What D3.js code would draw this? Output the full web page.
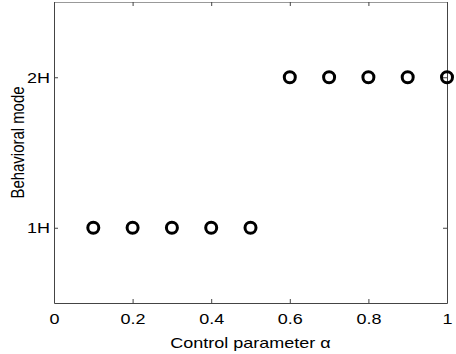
<!DOCTYPE html>
<html>
<head>
<meta charset="utf-8">
<script src="https://cdn.jsdelivr.net/npm/d3@7"></script>
<style>
  body { margin: 0; background: #fff; }
  text { font-family: "Liberation Sans", Arial, sans-serif; }
</style>
</head>
<body>
<div id="canvas"></div>
<script>
"use strict"

// data
let alphaValues = [0.1, 0.2, 0.3, 0.4, 0.5, 0.6, 0.7, 0.8, 0.9, 1.0];
let modeValues = [1, 1, 1, 1, 1, 2, 2, 2, 2, 2];
let xTicks = [0, 0.2, 0.4, 0.6, 0.8, 1];
let yTicks = [1, 2];
let yTickLabels = ["1H", "2H"];

let width = 456, height = 354;
let plotLeft = 54, plotRight = 447, plotTop = 2, plotBottom = 303;
let fontSize = 18;
let squash = 0.83; // the figure text looks squeezed vertically

let drawing = d3.select("#canvas")
    .append("svg")
    .attr("width", width)
    .attr("height", height);

let x = d3.scaleLinear().domain([0, 1]).range([plotLeft, plotRight]);
let y = d3.scaleLinear().domain([0.5, 2.5]).range([plotBottom, plotTop]);

let tickLen = 4;

// bottom axis
let xAxis = drawing.append("g")
    .attr("transform", `translate(0,${plotBottom})`)
    .call(d3.axisBottom(x).tickValues(xTicks).tickFormat(d3.format("")).tickSizeInner(-tickLen).tickSizeOuter(0));

// top axis (ticks only)
let xAxisTop = drawing.append("g")
    .attr("transform", `translate(0,${plotTop})`)
    .call(d3.axisTop(x).tickValues(xTicks).tickFormat("").tickSizeInner(-tickLen).tickSizeOuter(0));

// left axis
let yAxis = drawing.append("g")
    .attr("transform", `translate(${plotLeft},0)`)
    .call(d3.axisLeft(y).tickValues(yTicks).tickFormat((d, i) => yTickLabels[i]).tickSizeInner(-tickLen).tickSizeOuter(0));

// right axis (ticks only)
let yAxisRight = drawing.append("g")
    .attr("transform", `translate(${plotRight},0)`)
    .call(d3.axisRight(y).tickValues(yTicks).tickFormat("").tickSizeInner(-tickLen).tickSizeOuter(0));

drawing.selectAll(".domain").attr("stroke", "#444").attr("stroke-width", 1);
drawing.selectAll(".tick line").attr("stroke", "#444");
xAxisTop.select(".domain").attr("stroke", "#999");
drawing.selectAll(".tick text")
    .attr("font-size", fontSize)
    .attr("fill", "#000")
    .style("font-family", "'Liberation Sans', Arial, sans-serif");

xAxis.selectAll(".tick text")
    .attr("y", 0)
    .attr("dy", 0)
    .attr("transform", `translate(0,21) scale(1,${squash})`);

yAxis.selectAll(".tick text")
    .attr("x", 0)
    .attr("transform", `translate(-4,0) scale(1,${squash})`);

// points
drawing.append("g")
    .selectAll("circle")
    .data(alphaValues)
    .join("circle")
    .attr("cx", d => x(d))
    .attr("cy", (d, i) => y(modeValues[i]))
    .attr("r", 5.5)
    .attr("fill", "none")
    .attr("stroke", "#000")
    .attr("stroke-width", 3);

// labels
drawing.append("text")
    .attr("transform", `translate(${(plotLeft + plotRight) / 2},348) scale(1,${squash})`)
    .attr("text-anchor", "middle")
    .attr("font-size", fontSize)
    .text("Control parameter \u03b1");

drawing.append("text")
    .attr("transform", `translate(24,${(plotTop + plotBottom) / 2 - 10}) rotate(-90) scale(${squash},1)`)
    .attr("text-anchor", "middle")
    .attr("font-size", fontSize)
    .text("Behavioral mode");
</script>
</body>
</html>
